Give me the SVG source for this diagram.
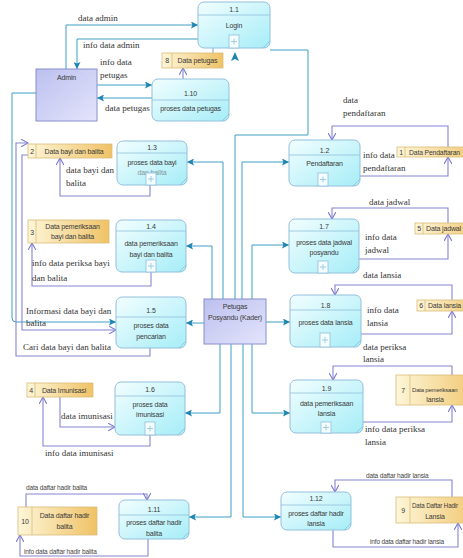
<svg xmlns="http://www.w3.org/2000/svg" width="463" height="558" viewBox="0 0 463 558">
<defs>
<linearGradient id="gp" x1="0" y1="0" x2="1" y2="1"><stop offset="0" stop-color="#f2feff"/><stop offset="1" stop-color="#a6edf7"/></linearGradient>
<linearGradient id="ge" x1="0" y1="0" x2="1" y2="1"><stop offset="0" stop-color="#bcc0ee"/><stop offset="1" stop-color="#e4e4fc"/></linearGradient>
<linearGradient id="gs" x1="0" y1="0" x2="1" y2="0"><stop offset="0" stop-color="#fdf6d8"/><stop offset="1" stop-color="#f0c266"/></linearGradient>
<marker id="t" viewBox="0 0 10 10" refX="10" refY="5" markerWidth="8" markerHeight="7" markerUnits="userSpaceOnUse" orient="auto"><path d="M0,0 L10,5 L0,10 L2,5 Z" fill="#1f86b2"/></marker>
<marker id="p" viewBox="0 0 10 10" refX="9" refY="5" markerWidth="8" markerHeight="8" markerUnits="userSpaceOnUse" orient="auto"><path d="M0,0 L9,5 L0,10" fill="none" stroke="#7b7bd0" stroke-width="1.4"/></marker>
</defs>
<style>
.proc{fill:url(#gp);stroke:#93bfdc;stroke-width:1}
.ent{fill:url(#ge);stroke:#8890d0;stroke-width:1}
.st{fill:url(#gs);stroke:#d9bc78;stroke-width:0.8}
.sep{stroke:#d9bc78;stroke-width:0.8}
.div{stroke:#93bfdc;stroke-width:0.8}
.plus{fill:#f4feff;stroke:#93bfdc;stroke-width:0.8}
.pl{stroke:#93bfdc;stroke-width:0.8;fill:none}
.cn{stroke:#93bfdc;stroke-width:0.8;fill:none}
.nt{font-family:'Liberation Sans',Arial,sans-serif;font-size:7px;letter-spacing:-0.15px;fill:#3a3a3a;text-anchor:middle}
.sn{font-family:'Liberation Sans',Arial,sans-serif;font-size:7px;letter-spacing:-0.15px;fill:#3a3a3a}
.lb{font-family:'Liberation Serif',serif;font-size:9px;fill:#333}
.ls{font-family:'Liberation Sans',Arial,sans-serif;font-size:6.5px;letter-spacing:-0.15px;fill:#444}
.tl{fill:none;stroke:#3d9fc4;stroke-width:1;marker-end:url(#t)}
.tn{fill:none;stroke:#3d9fc4;stroke-width:1}
.pu{fill:none;stroke:#8585d2;stroke-width:1.1;marker-end:url(#p)}
</style>

<g id="connectors">
<path class="tl" d="M66,69 V25 H198"/>
<path class="tl" d="M198,39 H77 V69"/>
<path class="tl" d="M97,85 H152"/>
<path class="tl" d="M152,98 H97"/>
<path class="pu" d="M183,79 V68"/>
<path class="tn" style="stroke:#8a9cc8" d="M213,48 V53"/>
<path class="tl" d="M36,93 H12 V318 Q12,322 16,322 H116"/>
<path class="pu" d="M28,155 H22 V330 H116"/>
<path class="pu" d="M150,348 V356 H16 V143 H28"/>
<path class="pu" d="M150,185 V196 H60 V158"/>
<path class="pu" d="M151,272 V286 H32 V243"/>
<path class="pu" d="M60,397 V427 H115"/>
<path class="pu" d="M150,435 V446 H43 V397"/>
<path class="pu" d="M26,507 V494 H147 V500"/>
<path class="pu" d="M148,539 V556 H20 V535"/>
<path class="tn" d="M235,299 V135 H308 V50 H270"/>
<path d="M235,52 L239,61 L235,59 L231,61 Z" fill="#1f86b2"/>
<path class="tl" d="M223,299 V162 H187"/>
<path class="tl" d="M212,299 V246 H186"/>
<path class="tl" d="M242,299 V162 H289"/>
<path class="tl" d="M252,299 V245 H289"/>
<path class="tl" d="M266,322 H290"/>
<path class="tl" d="M204,323 H186"/>
<path class="tl" d="M220,344 V413 H185"/>
<path class="tl" d="M231,344 V517 H189"/>
<path class="tl" d="M243,344 V517 H281"/>
<path class="tl" d="M252,344 V413 H290"/>
<path class="pu" d="M448,148 V126 H332 V140"/>
<path class="pu" d="M360,176 H448 V157"/>
<path class="pu" d="M448,223 V208 H332 V219"/>
<path class="pu" d="M359,259 H448 V234"/>
<path class="pu" d="M452,300 V285 H335 V295"/>
<path class="pu" d="M361,334 H452 V311"/>
<path class="pu" d="M452,375 V366 H333 V380"/>
<path class="pu" d="M363,422 H452 V405"/>
<path class="pu" d="M452,497 V480 H335 V492"/>
<path class="pu" d="M333,530 V547 H458 V523"/>
</g>

<g id="labels">
<text class="lb" x="78" y="21">data admin</text>
<text class="lb" x="83" y="48">info data admin</text>
<text class="lb" x="100" y="65">info data</text>
<text class="lb" x="100" y="78">petugas</text>
<text class="lb" x="105" y="111">data petugas</text>
<text class="lb" x="66" y="173">data bayi dan</text>
<text class="lb" x="66" y="186">balita</text>
<text class="lb" x="32" y="266">info data periksa bayi</text>
<text class="lb" x="32" y="281">dan balita</text>
<text class="lb" x="26" y="314">Informasi data bayi dan</text>
<text class="lb" x="26" y="326">balita</text>
<text class="lb" x="23" y="350">Cari data bayi dan balita</text>
<text class="lb" x="61" y="419">data imunisasi</text>
<text class="lb" x="45" y="456">info data imunisasi</text>
<text class="ls" x="26" y="490">data daftar hadir balita</text>
<text class="ls" x="24" y="554">info data daftar hadir balita</text>
<text class="lb" x="343" y="103">data</text>
<text class="lb" x="343" y="116">pendaftaran</text>
<text class="lb" x="363" y="158">info data</text>
<text class="lb" x="363" y="171">pendaftaran</text>
<text class="lb" x="369" y="205">data jadwal</text>
<text class="lb" x="365" y="240">info data</text>
<text class="lb" x="365" y="253">jadwal</text>
<text class="lb" x="363" y="278">data lansia</text>
<text class="lb" x="367" y="313">info data</text>
<text class="lb" x="367" y="326">lansia</text>
<text class="lb" x="363" y="350">data periksa</text>
<text class="lb" x="363" y="362">lansia</text>
<text class="lb" x="365" y="432">info data periksa</text>
<text class="lb" x="365" y="445">lansia</text>
<text class="ls" x="366" y="478">data daftar hadir lansia</text>
<text class="ls" x="370" y="544">info data daftar hadir lansia</text>
</g>

<g id="admin"><rect class="ent" x="36" y="69" width="61" height="52"/><text class="nt" x="66.5" y="80">Admin</text></g>
<g id="kader"><rect class="ent" x="204" y="299" width="62" height="45"/><text class="nt" x="235" y="309">Petugas</text><text class="nt" x="235" y="320">Posyandu (Kader)</text></g>

<g id="p1_1"><rect class="proc" x="198" y="2" width="72" height="46" rx="6"/><line class="div" x1="198" y1="15" x2="270" y2="15"/><text class="nt" x="234" y="12">1.1</text><text class="nt" x="234" y="28">Login</text><rect class="plus" x="229" y="35" width="10" height="13"/><path class="pl" d="M231,41.5h6M234,38.5v6"/><path class="cn" d="M263,48 L270,41"/></g>
<g id="p1_10"><rect class="proc" x="152" y="79" width="77" height="42" rx="6"/><line class="div" x1="152" y1="100" x2="229" y2="100"/><text class="nt" x="190.5" y="96">1.10</text><text class="nt" x="190.5" y="111">proses data petugas</text><path class="cn" d="M222,121 L229,114"/></g>
<g id="p1_3"><rect class="proc" x="117" y="141" width="70" height="44" rx="6"/><line class="div" x1="117" y1="153" x2="187" y2="153"/><text class="nt" x="152" y="150">1.3</text><text class="nt" x="152" y="165">proses data bayi</text><text class="nt" x="152" y="175" style="opacity:0.5">dan balita</text><rect class="plus" x="146" y="173" width="10" height="12"/><path class="pl" d="M148,179h6M151,176v6"/><path class="cn" d="M180,185 L187,178"/></g>
<g id="p1_4"><rect class="proc" x="116" y="220" width="70" height="52" rx="6"/><line class="div" x1="116" y1="231" x2="186" y2="231"/><text class="nt" x="151" y="229">1.4</text><text class="nt" x="151" y="246">data pemeriksaan</text><text class="nt" x="151" y="257">bayi dan balita</text><rect class="plus" x="146" y="260" width="10" height="12"/><path class="pl" d="M148,266h6M151,263v6"/><path class="cn" d="M179,272 L186,265"/></g>
<g id="p1_5"><rect class="proc" x="116" y="297" width="70" height="51" rx="6"/><line class="div" x1="116" y1="317" x2="186" y2="317"/><text class="nt" x="151" y="313">1.5</text><text class="nt" x="151" y="328">proses data</text><text class="nt" x="151" y="339">pencarian</text><path class="cn" d="M179,348 L186,341"/></g>
<g id="p1_6"><rect class="proc" x="115" y="382" width="70" height="53" rx="6"/><line class="div" x1="115" y1="396" x2="185" y2="396"/><text class="nt" x="150" y="392">1.6</text><text class="nt" x="150" y="407">proses data</text><text class="nt" x="150" y="417">imunisasi</text><rect class="plus" x="145" y="422" width="10" height="13"/><path class="pl" d="M147,428.5h6M150,425.5v6"/><path class="cn" d="M178,435 L185,428"/></g>
<g id="p1_11"><rect class="proc" x="119" y="500" width="70" height="39" rx="6"/><line class="div" x1="119" y1="515" x2="189" y2="515"/><text class="nt" x="154" y="512">1.11</text><text class="nt" x="154" y="525">proses daftar hadir</text><text class="nt" x="154" y="536">balita</text><path class="cn" d="M182,539 L189,532"/></g>
<g id="p1_2"><rect class="proc" x="289" y="140" width="71" height="46" rx="6"/><line class="div" x1="289" y1="155" x2="360" y2="155"/><text class="nt" x="324.5" y="153">1.2</text><text class="nt" x="324.5" y="166">Pendaftaran</text><rect class="plus" x="318" y="173" width="10" height="13"/><path class="pl" d="M320,179.5h6M323,176.5v6"/><path class="cn" d="M353,186 L360,179"/></g>
<g id="p1_7"><rect class="proc" x="289" y="219" width="70" height="54" rx="6"/><line class="div" x1="289" y1="231" x2="359" y2="231"/><text class="nt" x="324" y="229">1.7</text><text class="nt" x="324" y="245">proses data jadwal</text><text class="nt" x="324" y="255">posyandu</text><rect class="plus" x="318" y="261" width="10" height="12"/><path class="pl" d="M320,267h6M323,264v6"/><path class="cn" d="M352,273 L359,266"/></g>
<g id="p1_8"><rect class="proc" x="290" y="295" width="71" height="52" rx="6"/><line class="div" x1="290" y1="310" x2="361" y2="310"/><text class="nt" x="325.5" y="308">1.8</text><text class="nt" x="325.5" y="325">proses data lansia</text><rect class="plus" x="320" y="333" width="10" height="14"/><path class="pl" d="M322,340h6M325,337v6"/><path class="cn" d="M354,347 L361,340"/></g>
<g id="p1_9"><rect class="proc" x="290" y="380" width="73" height="53" rx="6"/><line class="div" x1="290" y1="393" x2="363" y2="393"/><text class="nt" x="326.5" y="391">1.9</text><text class="nt" x="326.5" y="406">data pemeriksaan</text><text class="nt" x="326.5" y="416">lansia</text><rect class="plus" x="321" y="422" width="10" height="11"/><path class="pl" d="M323,427.5h6M326,424.5v6"/><path class="cn" d="M356,433 L363,426"/></g>
<g id="p1_12"><rect class="proc" x="281" y="492" width="70" height="38" rx="6"/><line class="div" x1="281" y1="505" x2="351" y2="505"/><text class="nt" x="316" y="501">1.12</text><text class="nt" x="316" y="516">proses daftar hadir</text><text class="nt" x="316" y="526">lansia</text><path class="cn" d="M344,530 L351,523"/></g>

<g id="s8"><rect class="st" x="162" y="53" width="61" height="15"/><line class="sep" x1="172" y1="53" x2="172" y2="68"/><text class="nt" x="167" y="63">8</text><text class="nt" x="197.5" y="63">Data petugas</text></g>
<g id="s2"><rect class="st" x="28" y="144" width="84" height="14"/><line class="sep" x1="36" y1="144" x2="36" y2="158"/><text class="nt" x="32" y="153.5">2</text><text class="nt" x="74" y="153.5">Data bayi dan balita</text></g>
<g id="s3"><rect class="st" x="28" y="220" width="81" height="23"/><line class="sep" x1="36" y1="220" x2="36" y2="243"/><text class="nt" x="32" y="234.5">3</text><text class="nt" x="72.5" y="229">Data pemeriksaan</text><text class="nt" x="72.5" y="239">bayi dan balita</text></g>
<g id="s4"><rect class="st" x="27" y="383" width="66" height="14"/><line class="sep" x1="35" y1="383" x2="35" y2="397"/><text class="nt" x="31" y="392.5">4</text><text class="nt" x="64" y="392.5">Data Imunisasi</text></g>
<g id="s10"><rect class="st" x="18" y="507" width="79" height="28"/><line class="sep" x1="32" y1="507" x2="32" y2="535"/><text class="nt" x="25" y="523.5">10</text><text class="nt" x="64.5" y="518">Data daftar hadir</text><text class="nt" x="64.5" y="529">balita</text></g>
<g id="s1"><rect class="st" x="397" y="147" width="90" height="10"/><line class="sep" x1="405" y1="147" x2="405" y2="157"/><text class="nt" x="401" y="154.5">1</text><text class="sn" x="409" y="154.5" textLength="51" lengthAdjust="spacingAndGlyphs">Data Pendaftaran</text></g>
<g id="s5"><rect class="st" x="415" y="223" width="70" height="11"/><line class="sep" x1="423" y1="223" x2="423" y2="234"/><text class="nt" x="419" y="231">5</text><text class="sn" x="426" y="231" textLength="35" lengthAdjust="spacingAndGlyphs">Data jadwal</text></g>
<g id="s6"><rect class="st" x="417" y="300" width="70" height="11"/><line class="sep" x1="425" y1="300" x2="425" y2="311"/><text class="nt" x="421" y="308">6</text><text class="sn" x="428" y="308" textLength="33" lengthAdjust="spacingAndGlyphs">Data lansia</text></g>
<g id="s7"><rect class="st" x="396" y="375" width="90" height="30"/><line class="sep" x1="410" y1="375" x2="410" y2="405"/><text class="nt" x="403" y="392.5">7</text><text class="sn" x="412" y="392" style="font-size:6px;letter-spacing:-0.2px">Data pemeriksaan</text><text class="nt" x="435" y="402">lansia</text></g>
<g id="s9"><rect class="st" x="396" y="497" width="90" height="26"/><line class="sep" x1="410" y1="497" x2="410" y2="523"/><text class="nt" x="403" y="512.5">9</text><text class="sn" x="412" y="508" textLength="46" lengthAdjust="spacingAndGlyphs">Data Daftar Hadir</text><text class="nt" x="435" y="519">Lansia</text></g>
</svg>
